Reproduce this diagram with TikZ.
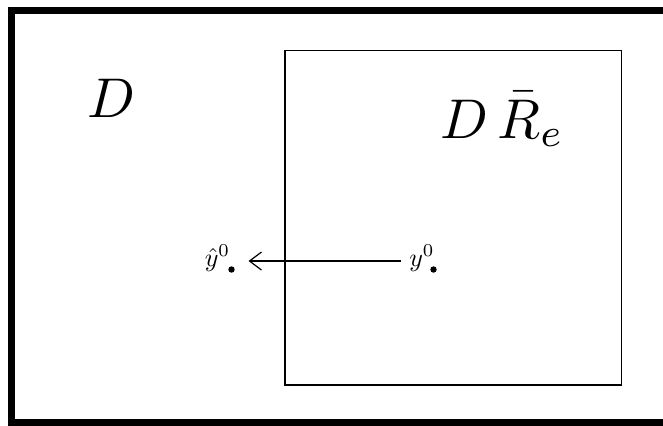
\documentclass[tikz,border=0pt]{standalone}
\usepackage{amsmath, amssymb}
\usepackage{graphicx}
\usepackage{tikz}
\usetikzlibrary{arrows.meta, positioning, calc}
\newcommand{\biglet}[1]{\scalebox{2.8}{#1}}
\newcommand{\ptlet}[1]{\scalebox{1.3}{#1}}

\begin{document}
\begin{tikzpicture}[x=0.5pt, y=-0.5pt,
    biglab/.style={inner sep=0pt},
    ptlab/.style={inner sep=0pt},
    ptdot/.style={circle, fill=black, inner sep=0pt, minimum size=3.2pt}]
    \useasboundingbox (0,0) rectangle (663,425);
    % cornice esterna (tagliata a destra)
    \draw[line width=3.5pt] (663,10.5) -- (11,10.5) -- (11,422) -- (663,422);
    \draw[line width=0.8pt] (285,50.5) rectangle (621.5,385);

    \node[biglab, anchor=base west] (D) at (87,117) {\biglet{$D$}};
    \node[biglab, anchor=base west] (DR) at (440,138) {\biglet{$D\,\bar{R}_e$}};

    % punti
    \node[ptdot] (yh) at (231.5,269.5) {};
    \node[ptdot] (y) at (433.5,269.5) {};
    \node[ptlab, anchor=base east] (yhlab) at (230.5,266) {\ptlet{$\hat{y}^0$}};
    \node[ptlab, anchor=base east] (ylab) at (435,266) {\ptlet{$y^0$}};

    \draw[line width=0.6pt, -{Straight Barb[length=6pt, width=9pt]},
        shorten <=4pt, shorten >=9pt]
        ([yshift=2.5pt]ylab.base west) -- ([yshift=2.5pt]yhlab.base east);
\end{tikzpicture}
\end{document}
